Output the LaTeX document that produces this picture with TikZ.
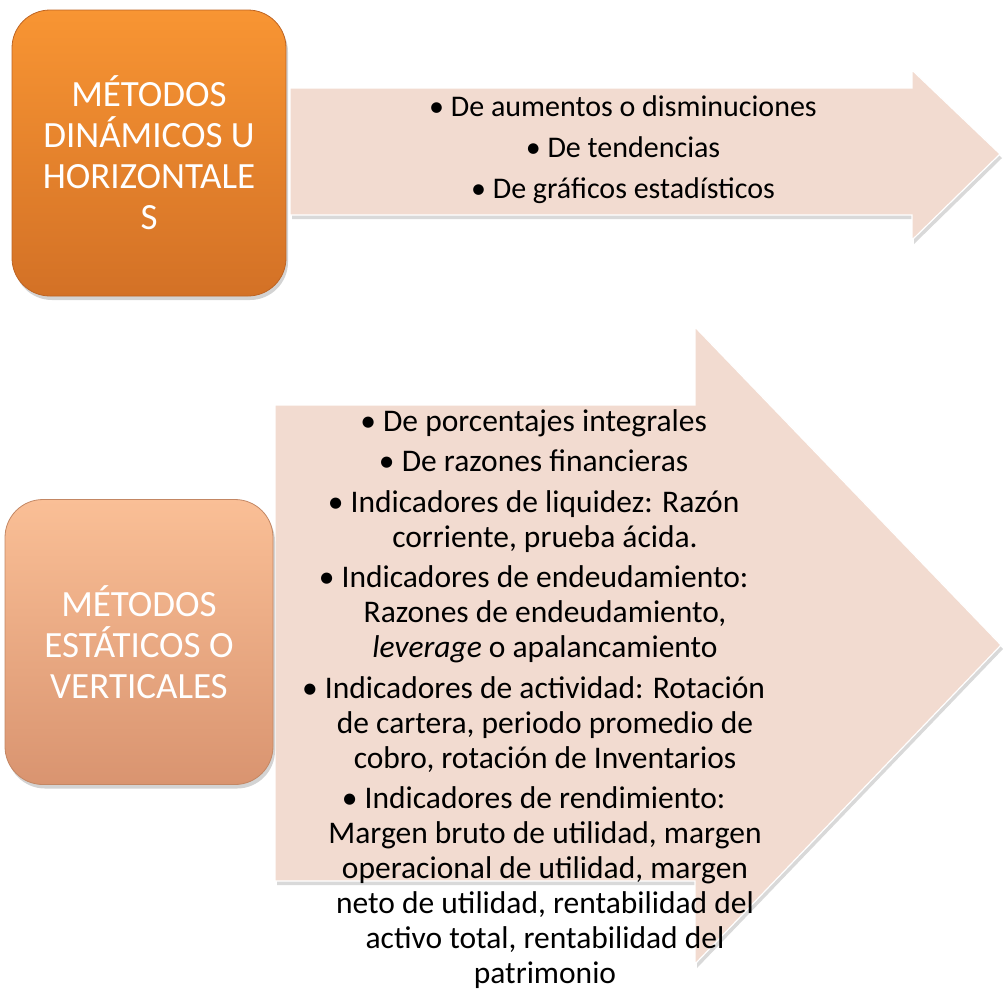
\documentclass[tikz,border=0pt]{standalone}
\usepackage{fontspec}
\setmainfont{Carlito}
\usetikzlibrary{shadows}

\definecolor{naranjaalto}{RGB}{248,149,51}
\definecolor{naranjabajo}{RGB}{211,113,38}
\definecolor{naranjaborde}{RGB}{190,100,35}
\definecolor{salmonalto}{RGB}{250,191,150}
\definecolor{salmonbajo}{RGB}{217,148,112}
\definecolor{salmonborde}{RGB}{195,135,100}
\definecolor{rosaflecha}{RGB}{242,219,208}

\newcommand{\vinieta}{\llap{• }}

\tikzset{
  metodo/.style={rounded corners=38pt, align=center, text=white,
    font=\fontsize{37}{41}\selectfont, line width=0.8pt,
    drop shadow={opacity=0.35, shadow xshift=2pt, shadow yshift=-4pt}},
  flecha/.style={fill=rosaflecha, draw=white, line width=1.2pt,
    drop shadow={opacity=0.3, shadow xshift=2pt, shadow yshift=-4pt}},
  lista/.style={align=center, text=black, inner sep=1pt,
    font=\fontsize{31.5}{35}\selectfont}
}

\begin{document}
\begin{tikzpicture}[x=1pt, y=-1pt]

    % Fix the page size
    \useasboundingbox (0,0) rectangle (1003,994);

    % Define the corners of the upper arrow
    \coordinate (a1) at (290, 88);    % Shaft top left
    \coordinate (a2) at (912, 88);    % Shaft top right
    \coordinate (a3) at (912, 70);    % Head top
    \coordinate (a4) at (1000, 154);  % Tip
    \coordinate (a5) at (912, 240);   % Head bottom
    \coordinate (a6) at (912, 215);   % Shaft bottom right
    \coordinate (a7) at (290, 215);   % Shaft bottom left

    % Define the corners of the lower arrow
    \coordinate (b1) at (275, 405);   % Shaft top left
    \coordinate (b2) at (695, 405);   % Shaft top right
    \coordinate (b3) at (695, 327);   % Head top
    \coordinate (b4) at (1001, 645);  % Tip
    \coordinate (b5) at (695, 964);   % Head bottom
    \coordinate (b6) at (695, 881);   % Shaft bottom right
    \coordinate (b7) at (275, 881);   % Shaft bottom left

    % Draw the arrows
    \draw[flecha] (a1) -- (a2) -- (a3) -- (a4) -- (a5) -- (a6) -- (a7) -- cycle;
    \draw[flecha] (b1) -- (b2) -- (b3) -- (b4) -- (b5) -- (b6) -- (b7) -- cycle;

    % Upper box
    \node[metodo, draw=naranjaborde, top color=naranjaalto, bottom color=naranjabajo,
      minimum width=274pt, minimum height=286pt] (dinamicos) at (149, 153)
      {MÉTODOS\\DINÁMICOS U\\HORIZONTALE\\S};

    % Lower box
    \node[metodo, draw=salmonborde, top color=salmonalto, bottom color=salmonbajo,
      minimum width=268pt, minimum height=285pt] (estaticos) at (139, 642)
      {MÉTODOS\\ESTÁTICOS O\\VERTICALES};

    % Items of the upper arrow
    \node[lista, font=\fontsize{30}{41}\selectfont] (horizontales) at (623, 150)
      {• De aumentos o disminuciones\\
       • De tendencias\\
       • De gráficos estadísticos};

    % Items of the lower arrow
    \node[lista] (verticales) at (545, 699)
      {\vinieta De porcentajes integrales\\[5.5pt]
       \vinieta De razones financieras\\[5.5pt]
       \vinieta Indicadores de liquidez: Razón\\
       corriente, prueba ácida.\\[5.5pt]
       \vinieta Indicadores de endeudamiento:\\
       Razones de endeudamiento,\\
       \textit{leverage} o apalancamiento\\[5.5pt]
       \vinieta Indicadores de actividad: Rotación\\
       de cartera, periodo promedio de\\
       cobro, rotación de Inventarios\\[5.5pt]
       \vinieta Indicadores de rendimiento:\\
       Margen bruto de utilidad, margen\\
       operacional de utilidad, margen\\
       neto de utilidad, rentabilidad del\\
       activo total, rentabilidad del\\
       patrimonio};

\end{tikzpicture}
\end{document}
